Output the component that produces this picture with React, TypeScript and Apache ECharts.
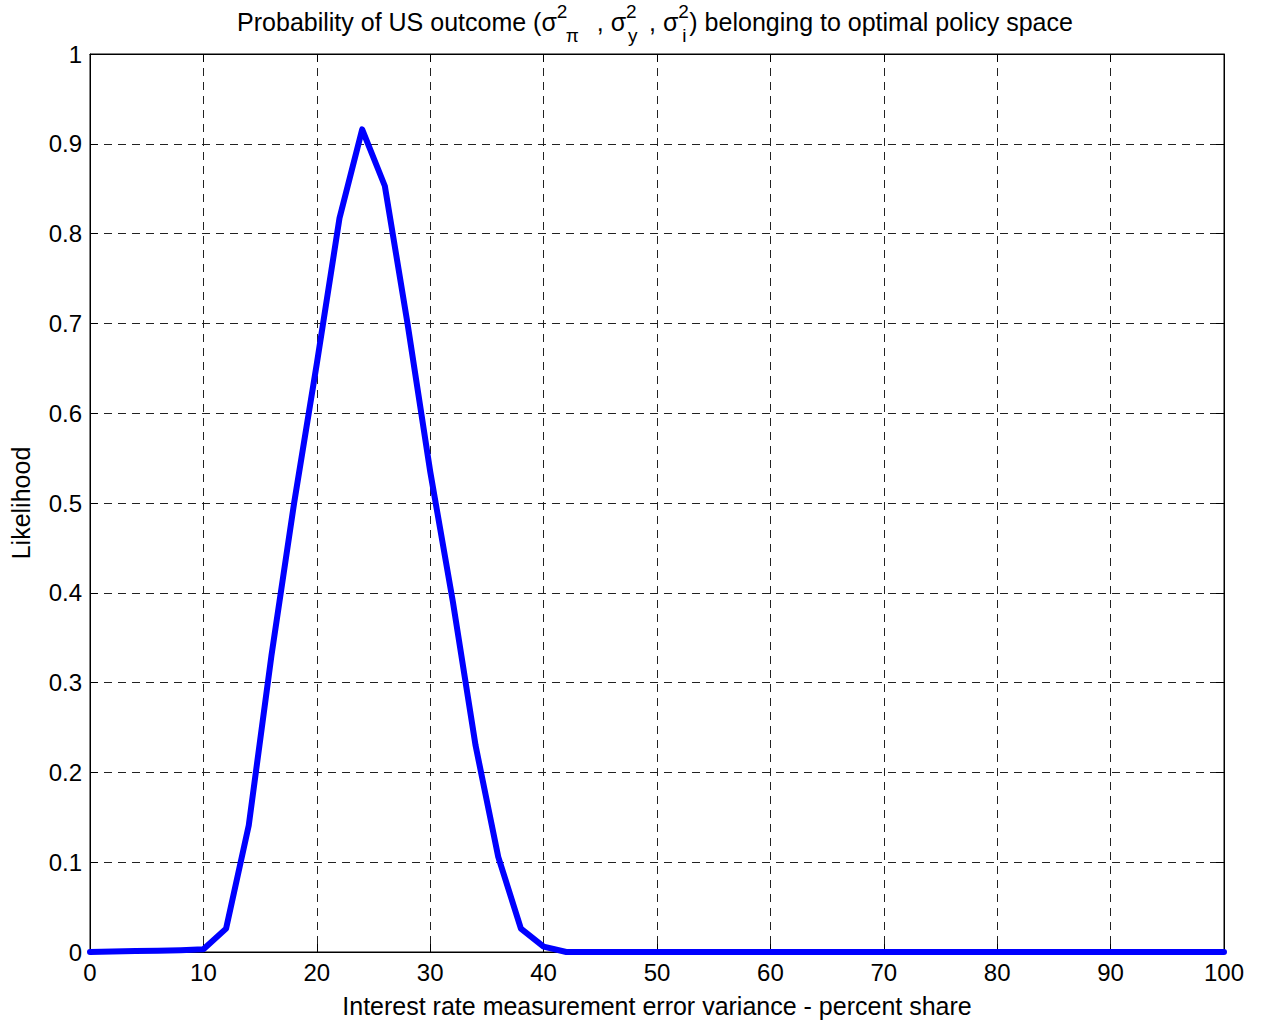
import React, { useEffect, useRef } from "react";
import * as echarts from "echarts";

const xValues = [
  0, 2, 4, 6, 8, 10, 12, 14, 16, 18, 20, 22, 24, 26, 28, 30, 32, 34, 36, 38, 40,
  42, 44, 46, 48, 50, 52, 54, 56, 58, 60, 62, 64, 66, 68, 70, 72, 74, 76, 78, 80,
  82, 84, 86, 88, 90, 92, 94, 96, 98, 100,
];
const likelihood = [
  0, 0.0005, 0.001, 0.0015, 0.002, 0.003, 0.026, 0.141, 0.33, 0.5, 0.655, 0.817,
  0.916, 0.853, 0.7, 0.535, 0.39, 0.23, 0.106, 0.026, 0.006,
  0, 0, 0, 0, 0, 0, 0, 0, 0, 0, 0, 0, 0, 0, 0, 0, 0, 0, 0, 0,
  0, 0, 0, 0, 0, 0, 0, 0, 0, 0,
];

const titleSegments = ["Probability of US outcome (σ", " , σ", " , σ", ") belonging to optimal policy space"];
const titleSups = ["2", "2", "2"];
const titleSubs = ["π", "y", "i"];
const xAxisName = "Interest rate measurement error variance - percent share";
const yAxisName = "Likelihood";

const FONT = '"Liberation Sans", Arial, Helvetica, sans-serif';

export default function App() {
  const ref = useRef<HTMLDivElement>(null);
  useEffect(() => {
    if (!ref.current) return;
    const chart = echarts.init(ref.current, null, { renderer: "svg" });

    const canvas = document.createElement("canvas");
    const ctx = canvas.getContext("2d")!;
    const mainSize = 25;
    const smallSize = 19;
    const measure = (t: string, size: number) => {
      ctx.font = `${size}px ${FONT}`;
      return ctx.measureText(t).width;
    };
    // script block layout: advance after sigma, sub offset
    const blockAdvance = [33, 16, 11];
    const subOffset = [9, 2, 4];
    let total = 0;
    titleSegments.forEach((seg, i) => {
      total += measure(seg, mainSize);
      if (i < blockAdvance.length) total += blockAdvance[i];
    });
    const centerX = 655;
    let cx = centerX - total / 2;
    const mainY = 22;
    const pieces: any[] = [];
    titleSegments.forEach((seg, i) => {
      pieces.push({
        type: "text",
        x: cx,
        y: mainY,
        style: { text: seg, font: `${mainSize}px ${FONT}`, fill: "#000", align: "left", verticalAlign: "middle" },
      });
      cx += measure(seg, mainSize);
      if (i < blockAdvance.length) {
        pieces.push({
          type: "text",
          x: cx,
          y: 11,
          style: { text: titleSups[i], font: `${smallSize}px ${FONT}`, fill: "#000", align: "left", verticalAlign: "middle" },
        });
        pieces.push({
          type: "text",
          x: cx + subOffset[i],
          y: 35,
          style: { text: titleSubs[i], font: `${smallSize}px ${FONT}`, fill: "#000", align: "left", verticalAlign: "middle" },
        });
        cx += blockAdvance[i];
      }
    });

    const data = xValues.map((x, i) => [x, likelihood[i]]);
    const gridLine = { show: true, lineStyle: { color: "#222", width: 1, type: [8, 6] as any } };
    const labelStyle = { color: "#000", fontSize: 24, fontFamily: FONT };
    const tick = { show: true, inside: true, length: 8, lineStyle: { color: "#000" } };
    const axLine = { show: true, onZero: false, lineStyle: { color: "#000", width: 1 } };

    chart.setOption({
      animation: false,
      backgroundColor: "#fff",
      grid: { left: 89, right: 50, top: 54, bottom: 74, show: true, borderColor: "#000", borderWidth: 1, backgroundColor: "transparent" },
      xAxis: [
        {
          type: "value",
          min: 0,
          max: 100,
          interval: 10,
          position: "bottom",
          axisLine: axLine,
          axisTick: tick,
          axisLabel: { ...labelStyle, margin: 8 },
          splitLine: gridLine,
          name: xAxisName,
          nameLocation: "middle",
          nameGap: 41,
          nameTextStyle: { color: "#000", fontSize: 25, fontFamily: FONT },
        },
        {
          type: "value",
          min: 0,
          max: 100,
          interval: 10,
          position: "top",
          axisLine: axLine,
          axisTick: tick,
          axisLabel: { show: false },
          splitLine: { show: false },
        },
      ],
      yAxis: [
        {
          type: "value",
          min: 0,
          max: 1,
          interval: 0.1,
          position: "left",
          axisLine: axLine,
          axisTick: tick,
          axisLabel: { ...labelStyle, margin: 8 },
          splitLine: gridLine,
          name: yAxisName,
          nameLocation: "middle",
          nameGap: 57,
          nameTextStyle: { color: "#000", fontSize: 25, fontFamily: FONT },
        },
        {
          type: "value",
          min: 0,
          max: 1,
          interval: 0.1,
          position: "right",
          axisLine: axLine,
          axisTick: tick,
          axisLabel: { show: false },
          splitLine: { show: false },
        },
      ],
      graphic: pieces,
      series: [
        {
          type: "line",
          data,
          showSymbol: false,
          clip: false,
          z: 10,
          lineStyle: { color: "#0000ff", width: 6, join: "round", cap: "round" },
          itemStyle: { color: "#0000ff" },
        },
      ],
    });
    return () => chart.dispose();
  }, []);
  return <div ref={ref} style={{ width: 1274, height: 1026, position: "absolute", left: 0, top: 0 }} />;
}
